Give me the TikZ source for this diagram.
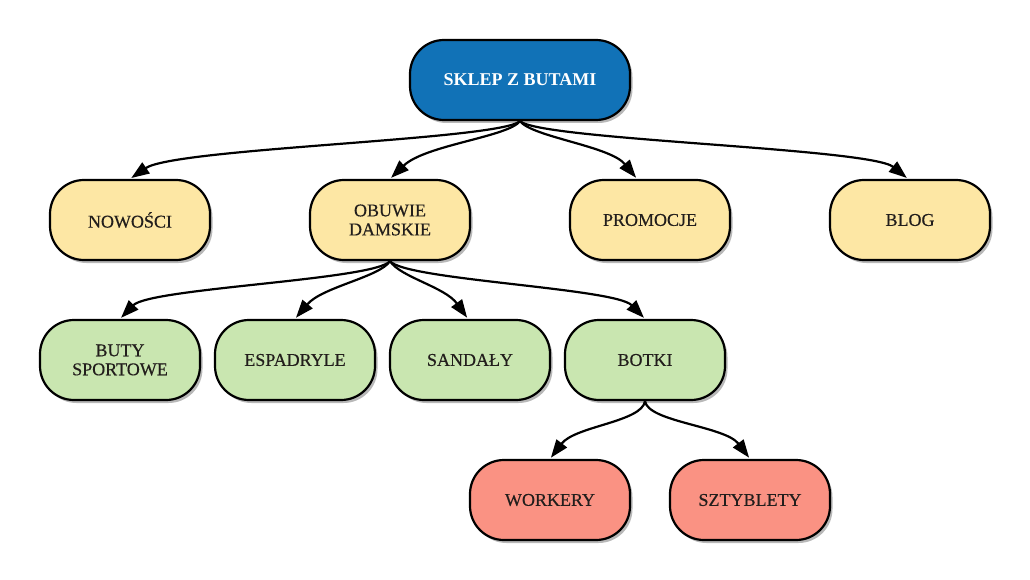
\documentclass[tikz,border=0pt]{standalone}
\usepackage{fontspec}
\setmainfont{Liberation Serif}
\newfontfamily\nodefont{Liberation Serif}[FakeBold=0.4]
\usetikzlibrary{arrows.meta,shadows}
\definecolor{rootblue}{RGB}{17,114,183}
\definecolor{lvlyellow}{RGB}{253,231,164}
\definecolor{lvlgreen}{RGB}{201,230,176}
\definecolor{lvlred}{RGB}{250,146,131}
\definecolor{txt}{RGB}{34,30,28}
\tikzset{
  box/.style={draw=black, line width=2.2pt, rounded corners=34pt,
    minimum width=160pt, minimum height=80pt, inner sep=2pt, align=center,
    text=txt, font=\nodefont\fontsize{18}{19}\selectfont,
    drop shadow={shadow xshift=2.5pt, shadow yshift=-3pt, fill=black, opacity=0.28}},
  rootbox/.style={box, fill=rootblue, minimum width=220pt, text=white,
    font=\fontsize{18}{19}\selectfont\bfseries},
  ybox/.style={box, fill=lvlyellow},
  gbox/.style={box, fill=lvlgreen},
  rbox/.style={box, fill=lvlred},
  edge/.style={line width=2.2pt, draw=black, -{Triangle[length=18pt,width=13pt]}, shorten >=1.5pt},
}
\begin{document}
\begin{tikzpicture}[x=1pt,y=-1pt]
\useasboundingbox (0,0) rectangle (1030,580);
\node[rootbox] (root) at (520,80) {SKLEP Z BUTAMI};
\node[ybox] (nowosci) at (130,220) {NOWOŚCI};
\node[ybox] (obuwie) at (390,220) {OBUWIE\\DAMSKIE};
\node[ybox] (promocje) at (650,220) {PROMOCJE};
\node[ybox] (blog) at (910,220) {BLOG};
\node[gbox] (buty) at (120,360) {BUTY\\SPORTOWE};
\node[gbox] (espadryle) at (295,360) {ESPADRYLE};
\node[gbox] (sandaly) at (470,360) {SANDAŁY};
\node[gbox] (botki) at (645,360) {BOTKI};
\node[rbox] (workery) at (550,500) {WORKERY};
\node[rbox] (sztyblety) at (750,500) {SZTYBLETY};

\draw[edge] (root.south) .. controls (500,140) and (175,148) .. (nowosci.north);
\draw[edge] (root.south) .. controls (508,137) and (425,145) .. (obuwie.north);
\draw[edge] (root.south) .. controls (532,137) and (610,146) .. ([xshift=-13pt]promocje.north);
\draw[edge] (root.south) .. controls (540,140) and (870,148) .. ([xshift=-2pt]blog.north);

\draw[edge] (obuwie.south) .. controls (375,280) and (150,288) .. (buty.north);
\draw[edge] (obuwie.south) .. controls (380,277) and (322,287) .. (espadryle.north);
\draw[edge] (obuwie.south) .. controls (400,277) and (445,287) .. ([xshift=-2pt]sandaly.north);
\draw[edge] (obuwie.south) .. controls (405,280) and (615,288) .. (botki.north);

\draw[edge] (botki.south) .. controls (642,422) and (575,426) .. (workery.north);
\draw[edge] (botki.south) .. controls (648,422) and (725,426) .. (sztyblety.north);
\end{tikzpicture}
\end{document}
